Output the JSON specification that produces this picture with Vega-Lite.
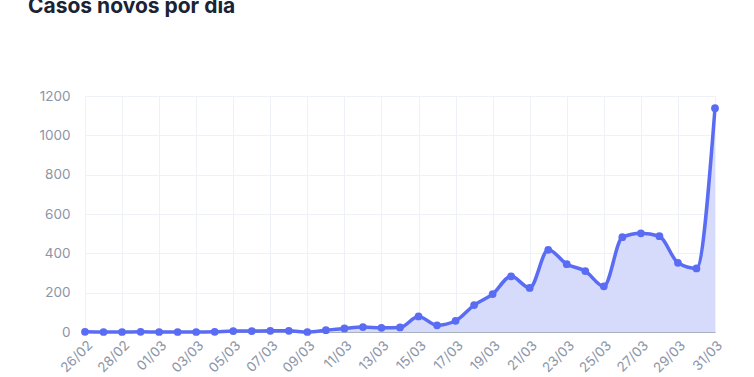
{
  "$schema": "https://vega.github.io/schema/vega-lite/v6.json",
  "width": 630,
  "height": 236,
  "autosize": {"type": "none"},
  "padding": {"left": 85, "top": 96, "right": 39, "bottom": 45},
  "background": "#ffffff",
  "title": {
    "text": "Casos novos por dia",
    "anchor": "start",
    "frame": "group",
    "font": "Inter",
    "fontSize": 21,
    "fontWeight": "bold",
    "color": "#1b2336",
    "baseline": "alphabetic",
    "offset": 55,
    "dx": -57
  },
  "config": {
    "view": {"stroke": null},
    "axis": {
      "labelFont": "Inter",
      "labelFontSize": 13.5,
      "labelColor": "#8c95a8",
      "gridColor": "#eef1f6",
      "gridWidth": 1,
      "ticks": false,
      "title": null
    }
  },
  "data": {
    "values": [
      {"data": "26/02", "casos": 1},
      {"data": "27/02", "casos": 0},
      {"data": "28/02", "casos": 0},
      {"data": "29/02", "casos": 1},
      {"data": "01/03", "casos": 0},
      {"data": "02/03", "casos": 0},
      {"data": "03/03", "casos": 0},
      {"data": "04/03", "casos": 1},
      {"data": "05/03", "casos": 5},
      {"data": "06/03", "casos": 5},
      {"data": "07/03", "casos": 6},
      {"data": "08/03", "casos": 6},
      {"data": "09/03", "casos": 0},
      {"data": "10/03", "casos": 9},
      {"data": "11/03", "casos": 18},
      {"data": "12/03", "casos": 25},
      {"data": "13/03", "casos": 21},
      {"data": "14/03", "casos": 23},
      {"data": "15/03", "casos": 79},
      {"data": "16/03", "casos": 34},
      {"data": "17/03", "casos": 57},
      {"data": "18/03", "casos": 137},
      {"data": "19/03", "casos": 193},
      {"data": "20/03", "casos": 283},
      {"data": "21/03", "casos": 224},
      {"data": "22/03", "casos": 418},
      {"data": "23/03", "casos": 345},
      {"data": "24/03", "casos": 310},
      {"data": "25/03", "casos": 232},
      {"data": "26/03", "casos": 482},
      {"data": "27/03", "casos": 502},
      {"data": "28/03", "casos": 487},
      {"data": "29/03", "casos": 352},
      {"data": "30/03", "casos": 323},
      {"data": "31/03", "casos": 1138}
    ]
  },
  "encoding": {
    "x": {
      "field": "data",
      "type": "ordinal",
      "sort": null,
      "scale": {"type": "point", "padding": 0},
      "axis": {
        "values": ["26/02", "28/02", "01/03", "03/03", "05/03", "07/03", "09/03", "11/03", "13/03", "15/03", "17/03", "19/03", "21/03", "23/03", "25/03", "27/03", "29/03", "31/03"],
        "labelAngle": -45,
        "labelPadding": 6,
        "grid": true,
        "domain": true,
        "domainColor": "#a9b0be"
      }
    },
    "y": {
      "field": "casos",
      "type": "quantitative",
      "scale": {"domain": [0, 1200], "nice": false},
      "axis": {
        "values": [0, 200, 400, 600, 800, 1000, 1200],
        "format": "d",
        "domain": false,
        "labelPadding": 15,
        "grid": true
      }
    }
  },
  "layer": [
    {
      "mark": {"type": "area", "interpolate": "monotone", "color": "#d6dbfc", "opacity": 1}
    },
    {
      "mark": {
        "type": "line",
        "interpolate": "monotone",
        "color": "#5a6cf4",
        "strokeWidth": 3.5,
        "point": {"filled": true, "size": 60, "color": "#5a6cf4"}
      }
    }
  ]
}
